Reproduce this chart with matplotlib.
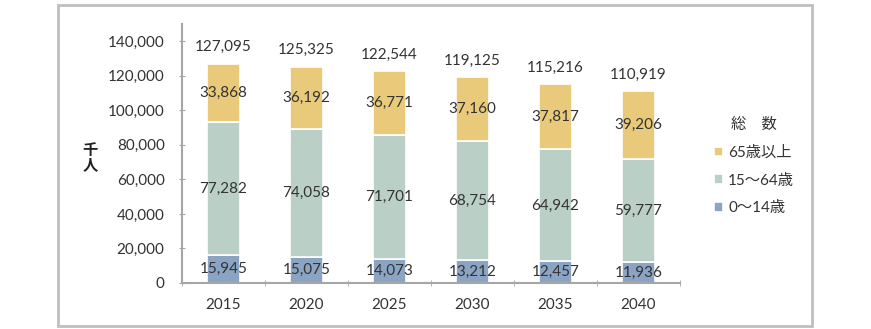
import matplotlib
matplotlib.use("Agg")
import matplotlib.pyplot as plt
from matplotlib.patches import Rectangle
import numpy as np

plt.rcParams['font.family'] = ['Lato', 'Noto Sans CJK JP', 'DejaVu Sans']

years = ['2015', '2020', '2025', '2030', '2035', '2040']
age_0_14 = [15945, 15075, 14073, 13212, 12457, 11936]
age_15_64 = [77282, 74058, 71701, 68754, 64942, 59777]
age_65_plus = [33868, 36192, 36771, 37160, 37817, 39206]
totals = [127095, 125325, 122544, 119125, 115216, 110919]

c_young = '#8CA4C3'
c_work = '#BACFC5'
c_old = '#E9CA7B'
text_c = '#333333'
axis_c = '#A6A6A6'

W, H = 871, 329
fig = plt.figure(figsize=(W / 100, H / 100), dpi=100)
fig.patch.set_facecolor('white')

# outer frame
fig.patches.append(Rectangle((58 / W, 1 - 326 / H), (812 - 58) / W, (326 - 5) / H,
                             transform=fig.transFigure, fill=False,
                             edgecolor='#BFBFBF', linewidth=2))

ax = fig.add_axes([182 / W, 1 - 283 / H, (680 - 182) / W, (283 - 24) / H])
x = np.arange(len(years))
bw = 0.39
y0 = np.array(age_0_14)
y1 = np.array(age_15_64)
y2 = np.array(age_65_plus)

b0 = ax.bar(x, y0, bw, color=c_young, edgecolor='white', linewidth=1.2, label='0～14歳')
b1 = ax.bar(x, y1, bw, bottom=y0, color=c_work, edgecolor='white', linewidth=1.2, label='15～64歳')
b2 = ax.bar(x, y2, bw, bottom=y0 + y1, color=c_old, edgecolor='white', linewidth=1.2, label='65歳以上')

fs = 11
for i in range(len(years)):
    ax.text(x[i], y0[i] / 2, f'{age_0_14[i]:,}', ha='center', va='center', fontsize=fs, color=text_c)
    ax.text(x[i], y0[i] + y1[i] / 2, f'{age_15_64[i]:,}', ha='center', va='center', fontsize=fs, color=text_c)
    ax.text(x[i], y0[i] + y1[i] + y2[i] / 2, f'{age_65_plus[i]:,}', ha='center', va='center', fontsize=fs, color=text_c)
    ax.text(x[i], totals[i] + 9500, f'{totals[i]:,}', ha='center', va='center', fontsize=fs, color=text_c)

ax.set_xlim(-0.5, len(years) - 0.5)
ax.set_ylim(0, 150000)
ax.set_yticks(np.arange(0, 140001, 20000))
ax.set_yticklabels([f'{v:,}' for v in range(0, 140001, 20000)], fontsize=fs, color=text_c)
ax.set_xticks(x)
ax.set_xticklabels(years, fontsize=fs, color=text_c)
ax.tick_params(axis='x', length=0, pad=11)
ax.set_xticks(np.arange(-0.5, len(years), 1), minor=True)
ax.tick_params(axis='x', which='minor', length=5, color=axis_c, direction='inout')
ax.tick_params(axis='y', length=5, color=axis_c, direction='inout', pad=10)
for s in ['top', 'right']:
    ax.spines[s].set_visible(False)
for s in ['left', 'bottom']:
    ax.spines[s].set_color(axis_c)
    ax.spines[s].set_linewidth(1.5)

fig.text(90 / W, 1 - 158 / H, '千\n人', ha='center', va='center', fontsize=11,
         color='#222222', linespacing=1.05, fontweight='bold')

leg = ax.legend(handles=[b2, b1, b0], title='総　数', loc='upper left',
                bbox_to_anchor=(700 / W, 1 - 104 / H), bbox_transform=fig.transFigure,
                frameon=False, fontsize=fs, title_fontsize=fs,
                handlelength=0.6, handleheight=0.6, handletextpad=0.35,
                labelspacing=0.9, labelcolor=text_c)
leg.get_title().set_color(text_c)

fig.savefig('out.png', dpi=100, facecolor='white')
